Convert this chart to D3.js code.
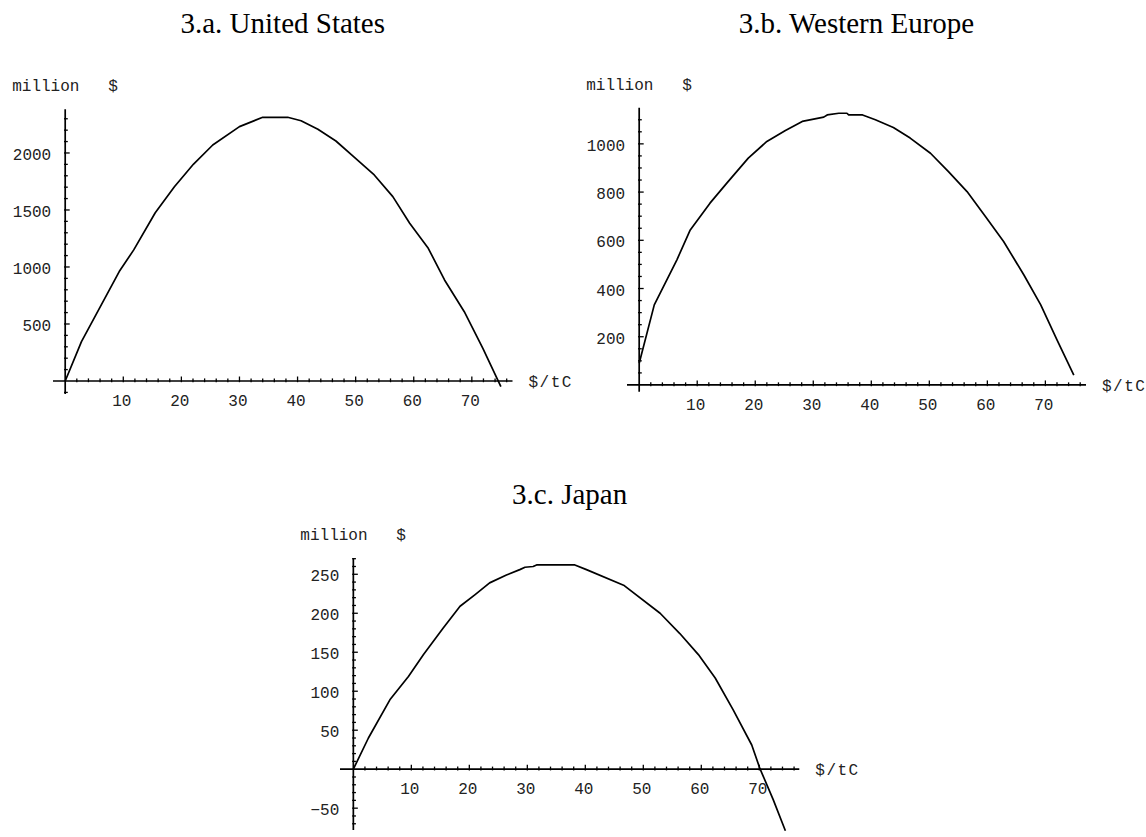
<!DOCTYPE html>
<head>
  <meta charset="utf-8">
  <script src="https://d3js.org/d3.v7.min.js"></script>
  <style>
    body { margin:0; background:#fff; }
    .title { font-family: "Liberation Serif", "Times New Roman", serif; font-size: 29px; fill: #000; }
    .lab { font-family: "Liberation Mono", "Courier New", monospace; font-size: 16px; fill: #222; }
    .curve { fill: none; stroke: #000; stroke-width: 1.7px; stroke-linejoin: round; }
    .ax { stroke: #000; stroke-width: 1.7px; }
    .tk { stroke: #000; stroke-width: 1.3px; }
  </style>
</head>

<body>
  <script>
    // values ($/tC -> million $)
    var usPrice = [0, 2.8, 9.3, 11.8, 15.5, 18.8, 22.1, 25.4, 30, 34, 38.3, 40.6, 43.5, 46.6, 49.5, 53.2, 56.4, 59.3, 62.5, 65.3, 68.7, 71.9, 75];
    var usValue = [0, 345, 960, 1150, 1476, 1704, 1903, 2070, 2231, 2313, 2313, 2283, 2208, 2105, 1974, 1807, 1617, 1383, 1164, 886, 608, 287, -50];

    var euPrice = [0, 2.6, 6.5, 8.8, 12.2, 15.1, 18.8, 22, 25.2, 28.1, 31.8, 32.4, 34.4, 35.8, 36.1, 38.5, 40.7, 43.8, 46.7, 50.2, 53.3, 56.5, 59.7, 62.8, 66.3, 69.2, 72, 74.9];
    var euValue = [90, 332, 519, 643, 754, 837, 941, 1010, 1055, 1093, 1111, 1120, 1127, 1127, 1120, 1120, 1100, 1068, 1024, 961, 885, 802, 698, 595, 456, 332, 187, 41];

    var jpPrice = [0, 2.6, 6.3, 9.5, 12.1, 15.5, 18.4, 21, 23.5, 26.4, 28.7, 29.6, 31, 31.6, 38.2, 40.2, 46.6, 52.9, 56.3, 59.5, 62.4, 65.5, 68.7, 70.1, 72.4, 74.5];
    var jpValue = [0, 40, 89, 119, 147, 181, 209, 224, 239, 249, 256, 259, 260, 262, 262, 256, 236, 200, 174, 147, 117, 76, 31, 1, -39, -79];

    var xTicks = [10, 20, 30, 40, 50, 60, 70];
    var usYTicks = [500, 1000, 1500, 2000];
    var euYTicks = [200, 400, 600, 800, 1000];
    var jpYTicks = [-50, 50, 100, 150, 200, 250];

    var titles = ["3.a. United States", "3.b. Western Europe", "3.c. Japan"];
    var yName = "million   $", xName = "$/tC";

    var svg = d3.select("body").append("svg")
      .attr("width", 1146)
      .attr("height", 837);

    function panel(p) {
      var x = d3.scaleLinear().domain(p.xd).range(p.xr);
      var y = d3.scaleLinear().domain(p.yd).range(p.yr);
      var g = svg.append("g");
      var x0 = x(0), y0 = y(0);

      // minor + major ticks on x
      d3.range(2, p.xd[1], 2).forEach(function(v) {
        var big = v % 10 == 0;
        g.append("line").attr("class", "tk")
          .attr("x1", x(v)).attr("x2", x(v))
          .attr("y1", y0 + 1.2).attr("y2", y0 - (big ? 4.5 : 2.6));
      });
      // y ticks
      d3.range(p.ymin, p.yd[1], p.ymin).concat(d3.range(-p.ymin, p.yd[0], -p.ymin)).forEach(function(v) {
        var big = v % p.ymaj == 0;
        g.append("line").attr("class", "tk")
          .attr("y1", y(v)).attr("y2", y(v))
          .attr("x1", x0 - 1.2).attr("x2", x0 + (big ? 4.5 : 2.6));
      });

      g.append("line").attr("class", "ax")
        .attr("x1", p.xr[0]).attr("x2", p.xr[1]).attr("y1", y0).attr("y2", y0);
      g.append("line").attr("class", "ax")
        .attr("x1", x0).attr("x2", x0).attr("y1", p.yr[0]).attr("y2", p.yr[1]);

      g.selectAll(".xl").data(xTicks).enter().append("text")
        .attr("class", "lab")
        .attr("x", function(d) { return x(d) - 1.5; })
        .attr("y", y0 + 25)
        .attr("text-anchor", "middle")
        .text(function(d) { return d; });

      g.selectAll(".yl").data(p.yt).enter().append("text")
        .attr("class", "lab")
        .attr("x", x0 - 14)
        .attr("y", function(d) { return y(d) + 7; })
        .attr("text-anchor", "end")
        .text(function(d) { return d < 0 ? "\u221250".replace("50", -d) : d; });

      g.append("text").attr("class", "lab")
        .attr("x", x0 - 53).attr("y", p.yr[1] - 18)
        .attr("xml:space", "preserve")
        .style("white-space", "pre")
        .text(yName);

      g.append("text").attr("class", "lab")
        .attr("x", p.xr[1] + 16).attr("y", y0 + 6)
        .attr("letter-spacing", "1.5px")
        .text(xName);

      g.append("text").attr("class", "title")
        .attr("x", (p.xr[0] + p.xr[1]) / 2).attr("y", p.ty)
        .attr("text-anchor", "middle")
        .text(p.title);

      var line = d3.line()
        .x(function(d) { return x(d[0]); })
        .y(function(d) { return y(d[1]); });

      g.append("path").attr("class", "curve")
        .attr("d", line(d3.zip(p.px, p.py)));
    }

    panel({ title: titles[0], ty: 33, px: usPrice, py: usValue, yt: usYTicks, ymin: 100, ymaj: 500,
            xd: [-2.1, 77], xr: [53, 512.5], yd: [-114, 2383], yr: [394, 109.3] });
    panel({ title: titles[1], ty: 33, px: euPrice, py: euValue, yt: euYTicks, ymin: 50, ymaj: 200,
            xd: [-2.1, 77], xr: [627, 1086], yd: [-28, 1150], yr: [391.7, 107.7] });
    panel({ title: titles[2], ty: 504, px: jpPrice, py: jpValue, yt: jpYTicks, ymin: 10, ymaj: 50,
            xd: [-2.3, 76.9], xr: [340, 799.3], yd: [-78, 270.5], yr: [830, 558.3] });
  </script>
</body>
